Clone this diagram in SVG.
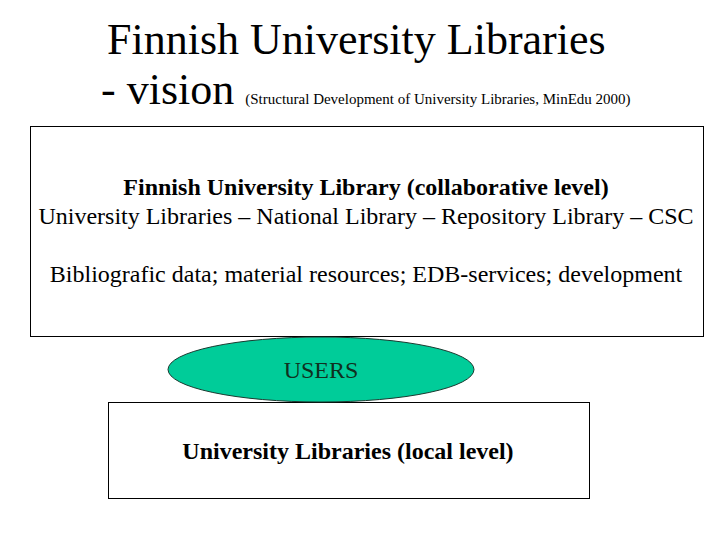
<svg xmlns="http://www.w3.org/2000/svg" width="720" height="540" viewBox="0 0 720 540">
<style>
text{font-family:"Liberation Serif","Times New Roman",serif;fill:#000}
.box{fill:#fff;stroke:#000;stroke-width:1}
.b{font-weight:bold}
.m{font-size:24px;text-anchor:middle}
</style>
<rect width="720" height="540" fill="#fff"/>
<g id="title">
<text x="107" y="54" style="font-size:44px">Finnish University Libraries</text>
<text x="101" y="104" style="font-size:44px">- vision <tspan style="font-size:15px">(Structural Development of University Libraries, MinEdu 2000)</tspan></text>
</g>
<g id="connectors"></g>
<g id="collab">
<rect class="box" x="30.5" y="126.5" width="673" height="210"/>
<text class="m b" x="366" y="195">Finnish University Library (collaborative level)</text>
<text class="m" x="366" y="224">University Libraries – National Library – Repository Library – CSC</text>
<text class="m" x="366" y="282">Bibliografic data; material resources; EDB-services; development</text>
</g>
<g id="local">
<rect class="box" x="108.5" y="402.5" width="481" height="96"/>
<text class="m b" x="348" y="459">University Libraries (local level)</text>
</g>
<g id="users">
<ellipse cx="321" cy="369.5" rx="153" ry="32.5" fill="#00CC99" stroke="#1a3a30" stroke-width="1"/>
<text class="m" x="321" y="378" style="fill:#103020">USERS</text>
</g>
</svg>
